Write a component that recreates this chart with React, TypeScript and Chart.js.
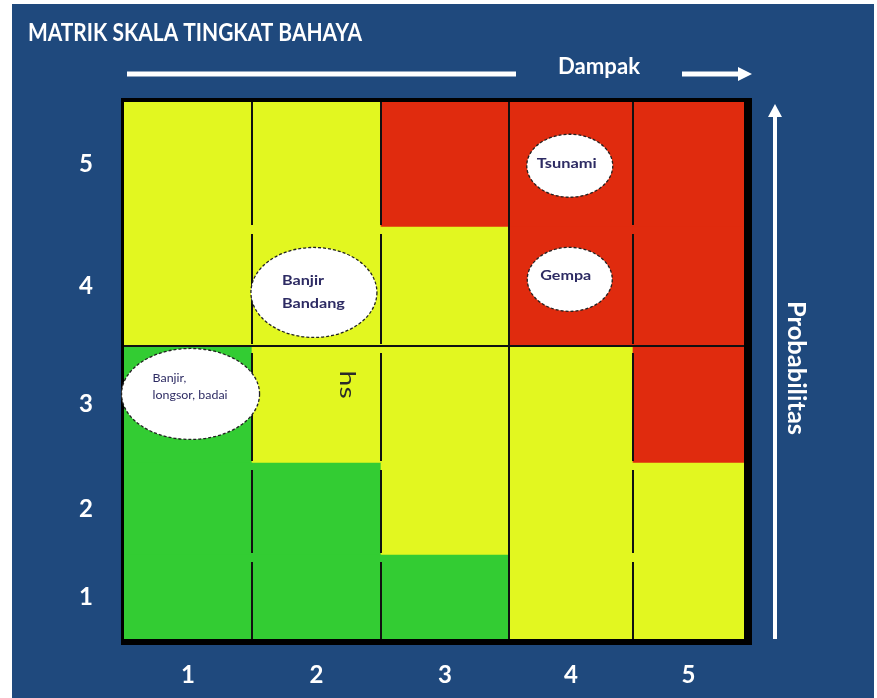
import React, { useEffect, useRef } from 'react';
import { Chart, registerables, LinearScale, BarController } from 'chart.js';

// ---------- data ----------
const impactTicks = ['1', '2', '3', '4', '5'];
const probabilityTicks = ['1', '2', '3', '4', '5'];
// risk level of each cell, one list per probability row (1 = bottom), columns = impact 1..5
const levelsP1 = ['low', 'low', 'low', 'medium', 'medium'];
const levelsP2 = ['low', 'low', 'medium', 'medium', 'medium'];
const levelsP3 = ['low', 'medium', 'medium', 'medium', 'high'];
const levelsP4 = ['medium', 'medium', 'medium', 'high', 'high'];
const levelsP5 = ['medium', 'medium', 'high', 'high', 'high'];
const hazardLabels = [['Banjir,', 'longsor, badai'], ['Banjir', 'Bandang'], ['Tsunami'], ['Gempa']];
const hazardImpact = [1.02, 1.98, 3.99, 3.99];
const hazardProbability = [3.09, 3.95, 4.99, 4.06];
const noteText = 'hs';
const noteImpact = 2.24;
const noteProbability = 3.17;
const titleText = 'MATRIK SKALA TINGKAT BAHAYA';
const xTitle = 'Dampak';
const yTitle = 'Probabilitas';

// ---------- layout / style ----------
const FONT = 'Lato, "Open Sans", sans-serif';
const BLUE = '#1F497D';
const LEVEL_COLORS: Record<string, string> = { low: '#33CC33', medium: '#E2F720', high: '#E02B0E' };
const COL_WEIGHTS = [128, 129, 128, 124, 111];
const ROW_WEIGHTS = [84, 92, 117, 119, 125];
const HAZARD_STYLE = [
  { rx: 69, ry: 45.5, weight: 'normal', size: 12, align: 'left', dx: -38, dys: [-16, 1], fitWidth: 75 },
  { rx: 63, ry: 45, weight: 'bold', size: 14, align: 'left', dx: -32, dys: [-12, 11], fitWidth: 63 },
  { rx: 43, ry: 31.5, weight: 'bold', size: 14, align: 'center', dx: -3, dys: [-2], fitWidth: 60 },
  { rx: 42.5, ry: 32, weight: 'bold', size: 14, align: 'center', dx: -4, dys: [-4], fitWidth: 51 },
];

// piecewise-linear scale: each unit step gets its own pixel weight
class PiecewiseScale extends LinearScale {
  static id = 'piecewise';
  static defaults = {};
  _cum(): number[] {
    const w: number[] = Array.from(((this as any).options.weights || []) as number[]);
    const c = [0];
    for (const v of w) c.push(c[c.length - 1] + v);
    return c;
  }
  getPixelForValue(value: any) {
    if (value === null || value === undefined || isNaN(value)) return NaN;
    const c = this._cum();
    const n = c.length - 1;
    const t = value - (this as any).min;
    let i = Math.floor(t);
    if (i < 0) i = 0;
    if (i > n - 1) i = n - 1;
    const pos = c[i] + (t - i) * (c[i + 1] - c[i]);
    return this.getPixelForDecimal(pos / c[n]);
  }
  getValueForPixel(pixel: number) {
    const dec = this.getDecimalForPixel(pixel);
    const c = this._cum();
    const n = c.length - 1;
    const pos = dec * c[n];
    let i = 0;
    while (i < n - 1 && c[i + 1] < pos) i++;
    return (this as any).min + i + (pos - c[i]) / (c[i + 1] - c[i]);
  }
}

// bar controller whose bars fill exactly one unit cell of the index scale
class CellController extends BarController {
  static id = 'cell';
  static defaults = {};
  _calculateBarIndexPixels(index: number, ruler: any) {
    const scale = ruler.scale;
    const v = (this as any).getParsed(index)[scale.axis];
    const a = scale.getPixelForValue(v - 0.5);
    const b = scale.getPixelForValue(v + 0.5);
    const lo = Math.min(a, b);
    const hi = Math.max(a, b);
    return { base: lo, head: hi, center: (lo + hi) / 2, size: hi - lo };
  }
}

Chart.register(...registerables, PiecewiseScale as any, CellController as any);

function fitScale(ctx: CanvasRenderingContext2D, text: string, width: number) {
  const w = ctx.measureText(text).width;
  return w > 0 ? width / w : 1;
}

const decorPlugin = {
  id: 'decor',
  beforeDraw(chart: any) {
    const { ctx, width, height } = chart;
    ctx.save();
    ctx.fillStyle = '#ffffff';
    ctx.fillRect(0, 0, width, height);
    ctx.fillStyle = BLUE;
    ctx.fillRect(12, 4, 862, height - 4);
    ctx.restore();
  },
  beforeDatasetsDraw(chart: any) {
    const { ctx, chartArea: a } = chart;
    ctx.save();
    ctx.fillStyle = '#000000';
    ctx.fillRect(a.left - 3, a.top - 4, a.right - a.left + 11, a.bottom - a.top + 10);
    ctx.restore();
  },
  afterDatasetsDraw(chart: any) {
    const { ctx, chartArea: a } = chart;
    const xs = chart.scales.x;
    const ys = chart.scales.y;
    ctx.save();
    ctx.strokeStyle = '#111111';
    ctx.lineWidth = 2;
    // column separators (segmented per row)
    for (let b = 1; b < impactTicks.length; b++) {
      const x = Math.round(xs.getPixelForValue(b + 0.5));
      for (let r = 1; r <= probabilityTicks.length; r++) {
        let top = ys.getPixelForValue(r + 0.5);
        let bot = ys.getPixelForValue(r - 0.5);
        if (b !== 3) {
          if (r !== probabilityTicks.length) top += 7;
          if (r !== 1) bot -= 2;
        }
        ctx.beginPath();
        ctx.moveTo(x, top);
        ctx.lineTo(x, bot);
        ctx.stroke();
      }
    }
    // middle horizontal separator
    const hy = Math.round(ys.getPixelForValue(3.5));
    ctx.beginPath();
    ctx.moveTo(a.left, hy);
    ctx.lineTo(a.right, hy);
    ctx.stroke();

    // hazard ellipses
    hazardLabels.forEach((lines, i) => {
      const st = HAZARD_STYLE[i];
      const cx = xs.getPixelForValue(hazardImpact[i]);
      const cy = ys.getPixelForValue(hazardProbability[i]);
      ctx.beginPath();
      ctx.ellipse(cx, cy, st.rx, st.ry, 0, 0, Math.PI * 2);
      ctx.fillStyle = '#ffffff';
      ctx.fill();
      ctx.setLineDash([3, 2]);
      ctx.lineWidth = 1.3;
      ctx.strokeStyle = '#222222';
      ctx.stroke();
      ctx.setLineDash([]);
      ctx.font = `${st.weight} ${st.size}px ${FONT}`;
      let widest = lines[0];
      lines.forEach((l) => { if (ctx.measureText(l).width > ctx.measureText(widest).width) widest = l; });
      const s = fitScale(ctx, widest, st.fitWidth);
      ctx.fillStyle = '#2D2B63';
      ctx.textBaseline = 'middle';
      ctx.textAlign = st.align as CanvasTextAlign;
      lines.forEach((l, li) => {
        ctx.save();
        ctx.translate(cx + st.dx, cy + st.dys[li]);
        ctx.scale(s, 1);
        ctx.fillText(l, 0, 0);
        ctx.restore();
      });
    });

    // rotated note
    const nx = xs.getPixelForValue(noteImpact);
    const ny = ys.getPixelForValue(noteProbability);
    ctx.save();
    ctx.translate(nx, ny);
    ctx.rotate(Math.PI / 2);
    ctx.font = `normal 22px ${FONT}`;
    const ns = fitScale(ctx, noteText, 28);
    ctx.scale(ns, 1);
    ctx.textAlign = 'center';
    ctx.textBaseline = 'middle';
    ctx.fillStyle = '#2a2a2a';
    ctx.fillText(noteText, 0, 0);
    ctx.restore();
    ctx.restore();
  },
  afterDraw(chart: any) {
    const { ctx } = chart;
    ctx.save();
    ctx.fillStyle = '#ffffff';
    ctx.strokeStyle = '#ffffff';
    ctx.textAlign = 'left';
    ctx.textBaseline = 'alphabetic';
    // title
    ctx.font = `bold 24px ${FONT}`;
    let s = fitScale(ctx, titleText, 334);
    ctx.save();
    ctx.translate(28, 41);
    ctx.scale(s, 1);
    ctx.fillText(titleText, 0, 0);
    ctx.restore();
    // Dampak label + arrows
    ctx.font = `bold 22px ${FONT}`;
    s = fitScale(ctx, xTitle, 82);
    ctx.save();
    ctx.translate(558, 74);
    ctx.scale(s, 1);
    ctx.fillText(xTitle, 0, 0);
    ctx.restore();
    ctx.lineWidth = 5;
    ctx.beginPath();
    ctx.moveTo(127, 74);
    ctx.lineTo(516, 74);
    ctx.stroke();
    ctx.beginPath();
    ctx.moveTo(682, 74);
    ctx.lineTo(740, 74);
    ctx.stroke();
    ctx.beginPath();
    ctx.moveTo(738, 67);
    ctx.lineTo(752, 74);
    ctx.lineTo(738, 81);
    ctx.closePath();
    ctx.fill();
    // Probabilitas arrow + label
    ctx.lineWidth = 4;
    ctx.beginPath();
    ctx.moveTo(775, 639);
    ctx.lineTo(775, 115);
    ctx.stroke();
    ctx.beginPath();
    ctx.moveTo(768, 117);
    ctx.lineTo(775, 104);
    ctx.lineTo(782, 117);
    ctx.closePath();
    ctx.fill();
    ctx.font = `bold 24px ${FONT}`;
    s = fitScale(ctx, yTitle, 134);
    ctx.save();
    ctx.translate(788, 301);
    ctx.rotate(Math.PI / 2);
    ctx.scale(s, 1);
    ctx.fillText(yTitle, 0, 0);
    ctx.restore();
    ctx.restore();
  },
};

export default function App() {
  const ref = useRef<HTMLCanvasElement | null>(null);
  useEffect(() => {
    if (!ref.current) return;
    const levelRows = [levelsP1, levelsP2, levelsP3, levelsP4, levelsP5];
    const tickFont = { family: FONT, size: 24, weight: 'bold' as const };
    const chart = new Chart(ref.current, {
      type: 'cell' as any,
      data: {
        datasets: levelRows.map((row, ri) => ({
          label: `P${ri + 1}`,
          data: impactTicks.map((_, ci) => ({ x: ci + 1, y: [ri + 0.5, ri + 1.5] })),
          backgroundColor: row.map((l) => LEVEL_COLORS[l]),
          borderWidth: 0,
          categoryPercentage: 1,
          barPercentage: 1,
          clip: 0,
        })) as any,
      },
      options: {
        animation: false,
        responsive: false,
        events: [],
        layout: { padding: { left: 0, right: 133, top: 102, bottom: 0 } },
        plugins: { legend: { display: false }, tooltip: { enabled: false }, title: { display: false } },
        scales: {
          x: {
            type: 'piecewise' as any,
            weights: COL_WEIGHTS,
            min: 0.5,
            max: 5.5,
            bounds: 'data',
            offset: false,
            stacked: true,
            afterBuildTicks: (sc: any) => { sc.ticks = impactTicks.map((_, i) => ({ value: i + 1 })); },
            afterFit: (sc: any) => { sc.height = 59; },
            grid: { display: false, drawTicks: false, offset: false },
            border: { display: false },
            ticks: {
              color: '#ffffff',
              font: tickFont,
              padding: 22,
              maxRotation: 0,
              autoSkip: false,
              callback: (_v: any, i: number) => impactTicks[i],
            },
          } as any,
          y: {
            type: 'piecewise' as any,
            weights: ROW_WEIGHTS,
            min: 0.5,
            max: 5.5,
            bounds: 'data',
            afterBuildTicks: (sc: any) => { sc.ticks = probabilityTicks.map((_, i) => ({ value: i + 1 })); },
            afterFit: (sc: any) => { sc.width = 124; },
            grid: { display: false, drawTicks: false },
            border: { display: false },
            ticks: {
              color: '#ffffff',
              font: tickFont,
              padding: 31,
              autoSkip: false,
              callback: (_v: any, i: number) => probabilityTicks[i],
            },
          } as any,
        },
      },
      plugins: [decorPlugin],
    });
    return () => chart.destroy();
  }, []);
  return (
    <div style={{ position: 'absolute', left: 0, top: 0, width: 877, height: 698 }}>
      <canvas ref={ref} width={877} height={698} style={{ display: 'block' }} />
    </div>
  );
}
